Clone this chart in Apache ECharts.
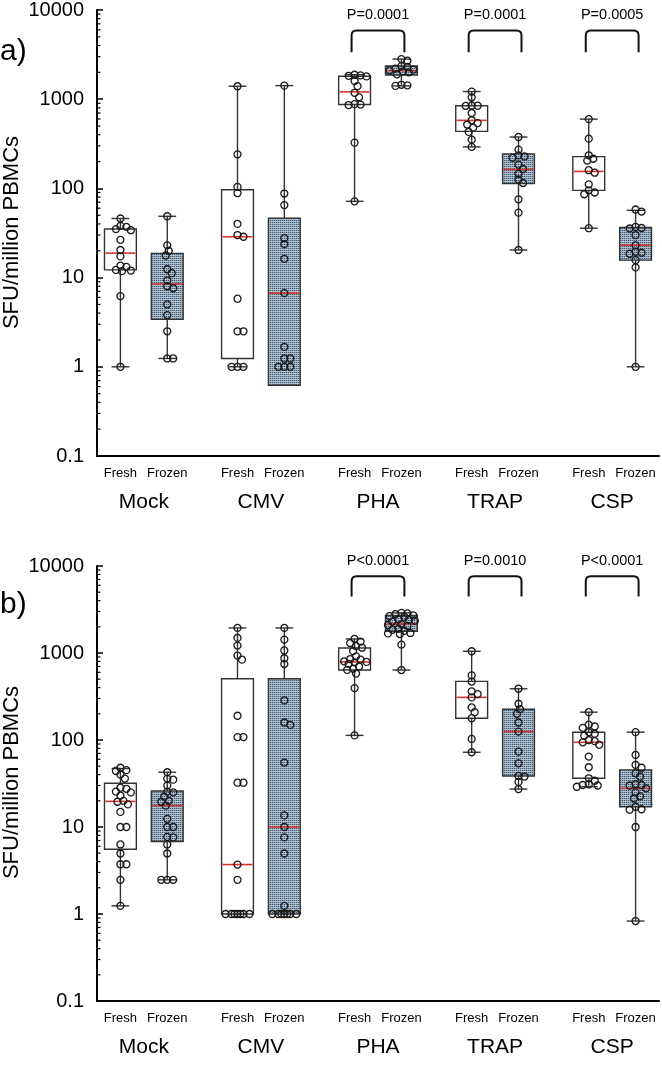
<!DOCTYPE html>
<html><head><meta charset="utf-8">
<script src="https://cdn.jsdelivr.net/npm/echarts@6/dist/echarts.min.js"></script>
<style>html,body{margin:0;padding:0;background:#fff}#c{width:662px;height:1071px}</style>
</head><body><div id="c"></div>
<script>
// ---------------- data ----------------
const groups = ['Mock', 'CMV', 'PHA', 'TRAP', 'CSP'];
const conditions = ['Fresh', 'Frozen'];
const yTicks = [0.1, 1, 10, 100, 1000, 10000];
const yTitle = 'SFU/million PBMCs';
const panelLabels = ['a)', 'b)'];
const pGroups = ['PHA', 'TRAP', 'CSP'];
const pLabelsA = ['P=0.0001', 'P=0.0001', 'P=0.0005'];
const pLabelsB = ['P<0.0001', 'P=0.0010', 'P<0.0001'];

// box stats [min, Q1, median, Q3, max]; order: Mock Fresh, Mock Frozen, CMV Fresh, CMV Frozen, PHA..., TRAP..., CSP...
const boxStatsA = [
  [1, 12.2, 18.8, 35, 46],
  [1.24, 3.4, 8.5, 18.7, 48.7],
  [1, 1.24, 28.7, 96.7, 1397],
  [0.62, 0.62, 6.7, 46.3, 1420],
  [71.6, 873, 1208, 1806, 1880],
  [1409, 1866, 2090, 2354, 2818],
  [292, 436, 579, 843, 1218],
  [20.4, 113, 163, 244, 377],
  [35.8, 95, 155, 227, 598],
  [1, 15.7, 23.1, 36.4, 56.8]
];
const pointsA = [
  [46, 38, 37, 35, 34, 26.5, 20.4, 17.3, 13.6, 13.2, 12.2, 12, 11.8, 6.2, 1],
  [48.7, 23, 20, 17.7, 12.4, 11.2, 9.3, 8, 7.6, 5, 3.8, 2.5, 1.24, 1.24],
  [1397, 241, 104, 88.7, 40, 30, 28.7, 5.8, 2.5, 2.5, 1, 1, 1],
  [1420, 87.6, 65, 27.7, 23.7, 16.2, 6.7, 1.67, 1.24, 1.24, 1, 1, 1],
  [1880, 1850, 1830, 1800, 1600, 1400, 1180, 1050, 880, 870, 860, 326, 71.6],
  [2818, 2700, 2350, 2300, 2200, 2150, 2100, 2050, 2000, 1900, 1450, 1430, 1410],
  [1218, 1050, 850, 845, 840, 700, 580, 540, 520, 480, 430, 352, 292],
  [377, 272, 235, 228, 220, 185, 165, 146, 126, 115, 75.4, 53.5, 20.4],
  [598, 361, 235, 215, 205, 160, 150, 111, 95, 90, 86, 35.8],
  [58, 55, 37, 36, 35.5, 30, 23, 19.5, 19, 18.5, 15.7, 13, 1]
];
const boxStatsB = [
  [1.24, 5.56, 19.7, 31.8, 47],
  [2.47, 6.82, 17.6, 25.9, 42.6],
  [1, 1, 3.7, 506, 1942],
  [1, 1, 10, 506, 1942],
  [113, 637, 789, 1142, 1451],
  [637, 1780, 2161, 2695, 2893],
  [72.3, 178, 309, 472, 1047],
  [27.3, 38.6, 125, 226, 388],
  [29, 36.3, 94, 123, 209],
  [0.83, 17.1, 27.8, 45.3, 123]
];
const pointsB = [
  [48, 45, 44, 40, 36, 28.3, 27.5, 25.5, 25, 23, 20, 19.5, 18.2, 14.9, 10, 10, 6.3, 4.96, 3.73, 3.73, 2.47, 1.24],
  [42.6, 36, 35, 29.9, 25.5, 25, 22.3, 20, 19.5, 17.6, 12.4, 10, 10, 7.7, 7.6, 6.3, 4.96, 2.47, 2.47, 2.47],
  [1942, 1490, 1217, 934, 838, 190, 108, 108, 32.3, 32.3, 3.7, 2.47, 1, 1, 1, 1, 1, 1, 1],
  [1942, 1425, 1070, 870, 746, 285, 159, 149, 55, 13.6, 10, 7.6, 4.96, 1.24, 1, 1, 1, 1, 1, 1, 1],
  [1451, 1350, 1300, 1200, 1150, 1050, 916, 850, 840, 800, 790, 780, 750, 700, 660, 640, 580, 395, 113],
  [2893, 2850, 2800, 2700, 2650, 2600, 2450, 2400, 2350, 2300, 2150, 2100, 2050, 1900, 1850, 1800, 1700, 1680, 1650, 1248, 637],
  [1047, 553, 470, 362, 337, 309, 237, 209, 178, 103, 72.3],
  [388, 261, 226, 200, 159, 125, 73.6, 54, 38.6, 38, 33, 27.3],
  [209, 150, 143, 138, 123, 118, 112, 100, 97, 94, 88, 64.5, 48.6, 36.3, 34, 31, 30.4, 30, 29],
  [123, 67.4, 51.7, 48, 41.4, 38, 31, 30.4, 30, 27.8, 25, 22.5, 21.3, 17.1, 16, 15.8, 10, 0.83]
];

// ---------------- layout / style ----------------
const GRIDS = [
  { left: 97, top: 7, width: 565, height: 449 },
  { left: 97, top: 566, width: 565, height: 435 }
];
const X_MIN = -0.5, X_MAX = 11.5;
const xOf = (g, c) => g * 2.5 + c;
const FONT = 'Liberation Sans, Arial, sans-serif';

// dotted fill pattern for frozen boxes
const pat = document.createElement('canvas');
pat.width = 2; pat.height = 2;
(function () {
  const ctx = pat.getContext('2d');
  ctx.fillStyle = '#abc0d2'; ctx.fillRect(0, 0, 2, 2);
  ctx.fillStyle = '#44576b'; ctx.fillRect(0, 0, 1, 1);
  ctx.fillStyle = '#8fa5b8'; ctx.fillRect(1, 0, 1, 1);
})();
const patternFill = { image: pat, repeat: 'repeat' };

// simple beeswarm (pixel space) to spread overlapping points, limited to box width
function swarm(values, xc, pxPerUnit, pxPerDec) {
  const D = 5.5, MAXOFF = 13.5, STEP = 1.5;
  const placed = [];
  const sorted = values.slice().sort((a, b) => b - a);
  const out = [];
  sorted.forEach(v => {
    const py = Math.log10(v) * pxPerDec;
    let best = 0, bestD = -1;
    for (let k = 0; ; k++) {
      const cand = (k === 0 ? 0 : (k % 2 ? 1 : -1) * Math.ceil(k / 2)) * STEP;
      if (Math.abs(cand) > MAXOFF) break;
      let minD = Infinity;
      placed.forEach(p => { minD = Math.min(minD, Math.hypot(p[0] - cand, p[1] - py)); });
      if (minD >= D) { best = cand; break; }
      if (minD > bestD) { bestD = minD; best = cand; }
    }
    placed.push([best, py]);
    out.push([xc + best / pxPerUnit, v]);
  });
  return out;
}

function renderBox(params, api) {
  const x = api.value(0);
  const mn = api.value(1), q1 = api.value(2), md = api.value(3), q3 = api.value(4), mx = api.value(5);
  const frozen = api.value(6) === 1;
  const half = 0.34, cap = 0.19;
  const tl = api.coord([x - half, q3]);
  const br = api.coord([x + half, q1]);
  const c = api.coord([x, md]);
  const pMax = api.coord([x, mx]);
  const pMin = api.coord([x, mn]);
  const capL = api.coord([x - cap, mx])[0], capR = api.coord([x + cap, mx])[0];
  const lineStyle = { stroke: '#333', lineWidth: 1.4 };
  const children = [
    { type: 'rect', shape: { x: tl[0], y: tl[1], width: br[0] - tl[0], height: br[1] - tl[1] },
      style: { fill: frozen ? patternFill : '#fff', stroke: null } },
  ];
  if (pMax[1] < tl[1] - 0.5) {
    children.push({ type: 'line', shape: { x1: c[0], y1: pMax[1], x2: c[0], y2: tl[1] }, style: lineStyle });
    children.push({ type: 'line', shape: { x1: capL, y1: pMax[1], x2: capR, y2: pMax[1] }, style: lineStyle });
  }
  if (pMin[1] > br[1] + 0.5) {
    children.push({ type: 'line', shape: { x1: c[0], y1: br[1], x2: c[0], y2: pMin[1] }, style: lineStyle });
    children.push({ type: 'line', shape: { x1: capL, y1: pMin[1], x2: capR, y2: pMin[1] }, style: lineStyle });
  }
  children.push({ type: 'rect', shape: { x: tl[0], y: tl[1], width: br[0] - tl[0], height: br[1] - tl[1] },
    style: { fill: null, stroke: '#333', lineWidth: 1.4 } });
  children.push({ type: 'line', shape: { x1: tl[0] + 1, y1: c[1], x2: br[0] - 1, y2: c[1] },
    style: { stroke: '#d8342a', lineWidth: 1.6 } });
  return { type: 'group', children };
}

function makeBracketRender(yTop, yBot, labels) {
  return function (params, api) {
    const x1 = api.coord([api.value(0), yTop])[0] - 3;
    const x2 = api.coord([api.value(1), yTop])[0] + 3;
    const yt = api.coord([api.value(0), yTop])[1];
    const yb = api.coord([api.value(0), yBot])[1];
    const r = 5;
    const d = `M${x1} ${yb} L${x1} ${yt + r} Q${x1} ${yt} ${x1 + r} ${yt} L${x2 - r} ${yt} Q${x2} ${yt} ${x2} ${yt + r} L${x2} ${yb}`;
    return {
      type: 'group', children: [
        { type: 'path', shape: { pathData: d }, style: { fill: null, stroke: '#111', lineWidth: 2 } },
        { type: 'text', style: { text: labels[params.dataIndex], x: (x1 + x2) / 2, y: yt - 15,
          align: 'center', verticalAlign: 'middle', font: '14.5px ' + FONT, fill: '#000' } }
      ]
    };
  };
}

function minorRender(params, api) {
  const p = api.coord([X_MIN, api.value(0)]);
  return { type: 'line', shape: { x1: p[0], y1: p[1], x2: p[0] + 3.5, y2: p[1] }, style: { stroke: '#000', lineWidth: 1.2 } };
}

const minorVals = [];
for (let e = -1; e < 4; e++) for (let m = 2; m <= 9; m++) minorVals.push(m * Math.pow(10, e));

const xLabelFmt = v => {
  const r = Math.round(((v % 2.5) + 2.5) % 2.5 * 10) / 10;
  if (r === 0) return conditions[0];
  if (r === 1) return conditions[1];
  return '';
};
const xGroupFmt = v => {
  const r = Math.round(((v % 2.5) + 2.5) % 2.5 * 10) / 10;
  if (r === 0.5) return groups[Math.round((v - 0.5) / 2.5)];
  return '';
};
const yFmt = v => (v < 1 ? (Math.round(v * 10) / 10).toString() : String(Math.round(v)));

const option = { animation: false, backgroundColor: '#fff', grid: [], xAxis: [], yAxis: [], series: [], graphic: [] };

const panels = [
  { stats: boxStatsA, pts: pointsA, p: pLabelsA, bracket: [5900, 3370] },
  { stats: boxStatsB, pts: pointsB, p: pLabelsB, bracket: [7600, 4470] }
];
panels.forEach((pn, i) => {
  const G = GRIDS[i];
  option.grid.push(Object.assign({ containLabel: false }, G));
  const xi0 = option.xAxis.length;
  option.xAxis.push({
    type: 'value', gridIndex: i, min: X_MIN, max: X_MAX, interval: 0.5, position: 'bottom',
    axisLine: { show: true, onZero: false, lineStyle: { color: '#000', width: 2 } },
    axisTick: { show: false }, splitLine: { show: false },
    axisLabel: { formatter: xLabelFmt, fontSize: 13, margin: 11, color: '#000', fontFamily: FONT,
      showMinLabel: true, showMaxLabel: true }
  });
  option.xAxis.push({
    type: 'value', gridIndex: i, min: X_MIN, max: X_MAX, interval: 0.5, position: 'bottom',
    axisLine: { show: false }, axisTick: { show: false }, splitLine: { show: false },
    axisLabel: { formatter: xGroupFmt, fontSize: 21, margin: 36, color: '#000', fontFamily: FONT }
  });
  const yi = option.yAxis.length;
  option.yAxis.push({
    type: 'log', logBase: 10, gridIndex: i, min: yTicks[0], max: yTicks[yTicks.length - 1],
    axisLine: { show: true, onZero: false, lineStyle: { color: '#000', width: 2 } },
    axisTick: { show: true, inside: true, length: 6, lineStyle: { color: '#000', width: 1.5 } },
    splitLine: { show: false },
    axisLabel: { formatter: yFmt, fontSize: 20, margin: 13, color: '#000', fontFamily: FONT }
  });
  // minor ticks
  option.series.push({
    type: 'custom', xAxisIndex: xi0, yAxisIndex: yi, renderItem: minorRender, silent: true,
    data: minorVals.map(v => [v]), encode: { y: 0 }, z: 1
  });
  // boxes
  const boxData = pn.stats.map((s, k) => [xOf(Math.floor(k / 2), k % 2), ...s, k % 2]);
  option.series.push({
    type: 'custom', xAxisIndex: xi0, yAxisIndex: yi, renderItem: renderBox, silent: true,
    data: boxData, encode: { x: 0, y: [1, 2, 3, 4, 5] }, z: 2
  });
  // points
  const pxPerUnit = G.width / (X_MAX - X_MIN);
  const pxPerDec = G.height / 5;
  const pts = [];
  pn.pts.forEach((vals, k) => {
    swarm(vals, xOf(Math.floor(k / 2), k % 2), pxPerUnit, pxPerDec).forEach(p => pts.push(p));
  });
  option.series.push({
    type: 'scatter', xAxisIndex: xi0, yAxisIndex: yi, data: pts, symbol: 'circle', symbolSize: 7,
    itemStyle: { color: 'rgba(255,255,255,0)', borderColor: '#1a1a1a', borderWidth: 1.3, opacity: 1 },
    silent: true, z: 3
  });
  // brackets with p values
  option.series.push({
    type: 'custom', xAxisIndex: xi0, yAxisIndex: yi, clip: false, silent: true,
    renderItem: makeBracketRender(pn.bracket[0], pn.bracket[1], pn.p),
    data: pGroups.map(g => { const gi = groups.indexOf(g); return [xOf(gi, 0), xOf(gi, 1)]; }),
    encode: { x: [0, 1] }, z: 4
  });
  // panel label and y title
  option.graphic.push({
    type: 'text', left: 0, top: G.top + (i === 0 ? 30 : 24),
    style: { text: panelLabels[i], font: '30px ' + FONT, fill: '#000' }
  });
  option.graphic.push({
    type: 'text', x: 12, y: G.top + G.height / 2 + (i === 0 ? 1 : -1), rotation: Math.PI / 2,
    style: { text: yTitle, font: '22px ' + FONT, fill: '#000', align: 'center', verticalAlign: 'middle' }
  });
});

const chart = echarts.init(document.getElementById('c'), null, { renderer: 'canvas' });
chart.setOption(option);
</script></body></html>
